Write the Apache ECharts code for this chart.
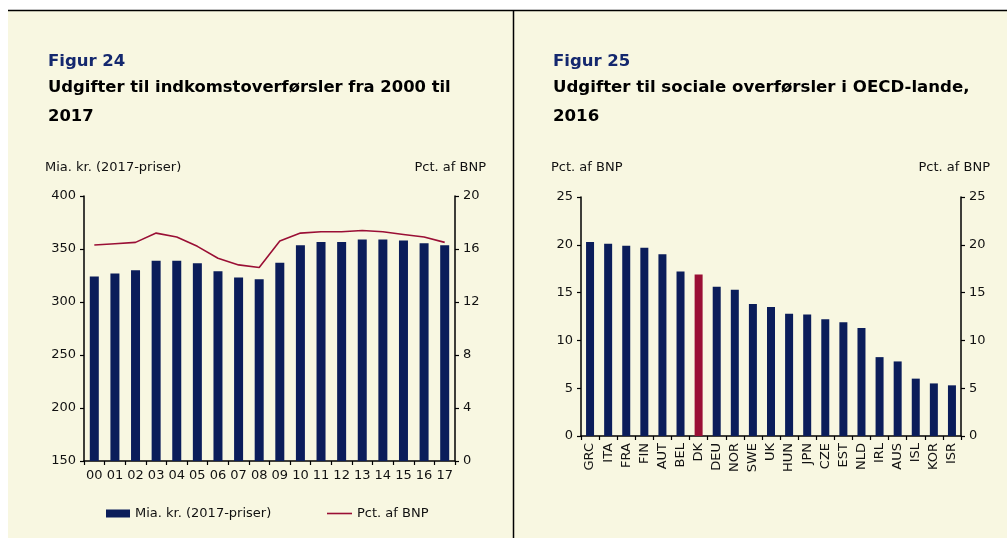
<!DOCTYPE html>
<html>
<head>
<meta charset="utf-8">
<script src="https://cdn.jsdelivr.net/npm/echarts@6/dist/echarts.min.js"></script>
<style>
  html, body { margin: 0; padding: 0; background: #ffffff; }
  #main { width: 1007px; height: 538px; }
</style>
</head>
<body>
<div id="main"></div>
<script>
// Figur 24 data
const years = ['00', '01', '02', '03', '04', '05', '06', '07', '08', '09', '10', '11', '12', '13', '14', '15', '16', '17'];
const miaKr = [324, 327, 330, 339, 339, 336.5, 329, 323, 321.5, 337, 353.5, 356.5, 356.5, 359, 359, 358, 355.5, 353.5];
const pctBnp = [16.3, 16.4, 16.5, 17.2, 16.9, 16.2, 15.3, 14.8, 14.6, 16.6, 17.2, 17.3, 17.3, 17.4, 17.3, 17.1, 16.9, 16.5];

// Figur 25 data
const countries = ['GRC', 'ITA', 'FRA', 'FIN', 'AUT', 'BEL', 'DK', 'DEU', 'NOR', 'SWE', 'UK', 'HUN', 'JPN', 'CZE', 'EST', 'NLD', 'IRL', 'AUS', 'ISL', 'KOR', 'ISR'];
const oecdPct = [20.3, 20.1, 19.9, 19.7, 19.0, 17.2, 16.9, 15.6, 15.3, 13.8, 13.5, 12.8, 12.7, 12.2, 11.9, 11.3, 8.25, 7.8, 6.0, 5.5, 5.3];
const highlight = 'DK';

const NAVY = '#0b1d5a';
const RED = '#9a0f35';
const BG = '#f8f7e1';
const FONT = 'DejaVu Sans';

const chart = echarts.init(document.getElementById('main'));

const axisText = { color: '#111', fontFamily: FONT, fontSize: 13 };
const axisLine = { show: true, lineStyle: { color: '#000', width: 1.5 } };
const axisTick = { show: true, length: 4, lineStyle: { color: '#000', width: 1.2 } };
const legendText = { fontFamily: FONT, fontSize: 13, color: '#111' };

function txt(x, y, text, style) {
  return {
    type: 'text', x: x, y: y,
    style: Object.assign({ text: text, fontFamily: FONT, fontSize: 13, fill: '#111', verticalAlign: 'middle' }, style || {})
  };
}

chart.setOption({
  animation: false,
  backgroundColor: '#ffffff',
  graphic: [
    { type: 'rect', shape: { x: 8, y: 10, width: 999, height: 528 }, style: { fill: BG }, z: -10 },
    { type: 'line', shape: { x1: 8, y1: 10.5, x2: 1007, y2: 10.5 }, style: { stroke: '#000', lineWidth: 1.5 } },
    { type: 'line', shape: { x1: 513.5, y1: 10, x2: 513.5, y2: 538 }, style: { stroke: '#000', lineWidth: 1.5 } },
    txt(48, 62, 'Figur 24', { fontSize: 16.5, fontWeight: 'bold', fill: '#14286e' }),
    txt(48, 88, 'Udgifter til indkomstoverførsler fra 2000 til', { fontSize: 16.4, fontWeight: 'bold', fill: '#000' }),
    txt(48, 117, '2017', { fontSize: 16.4, fontWeight: 'bold', fill: '#000' }),
    txt(553, 62, 'Figur 25', { fontSize: 16.5, fontWeight: 'bold', fill: '#14286e' }),
    txt(553, 88, 'Udgifter til sociale overførsler i OECD-lande,', { fontSize: 16.6, fontWeight: 'bold', fill: '#000' }),
    txt(553, 117, '2016', { fontSize: 16.6, fontWeight: 'bold', fill: '#000' }),
    txt(45, 168, 'Mia. kr. (2017-priser)'),
    txt(486, 168, 'Pct. af BNP', { align: 'right' }),
    txt(551, 168, 'Pct. af BNP'),
    txt(990, 168, 'Pct. af BNP', { align: 'right' })
  ],
  legend: [
    {
      left: 101, top: 502,
      itemWidth: 24, itemHeight: 8,
      textStyle: legendText,
      data: [{ name: 'Mia. kr. (2017-priser)', icon: 'rect' }]
    },
    {
      left: 322, top: 502,
      itemWidth: 25, itemHeight: 1.6,
      textStyle: legendText,
      data: [{ name: 'Pct. af BNP', icon: 'rect' }]
    }
  ],
  grid: [
    { left: 84, right: 552, top: 196, bottom: 77 },
    { left: 581, right: 46, top: 197, bottom: 102 }
  ],
  xAxis: [
    {
      type: 'category', gridIndex: 0, data: years,
      axisLine: axisLine, axisTick: axisTick,
      axisLabel: Object.assign({ margin: 8, interval: 0 }, axisText)
    },
    {
      type: 'category', gridIndex: 1, data: countries,
      axisLine: axisLine, axisTick: axisTick,
      axisLabel: Object.assign({ rotate: 90, margin: 7, interval: 0 }, axisText)
    }
  ],
  yAxis: [
    {
      type: 'value', gridIndex: 0, min: 150, max: 400, interval: 50,
      axisLine: axisLine, axisTick: axisTick, splitLine: { show: false },
      axisLabel: Object.assign({ margin: 8 }, axisText)
    },
    {
      type: 'value', gridIndex: 0, position: 'right', min: 0, max: 20, interval: 4,
      axisLine: axisLine, axisTick: axisTick, splitLine: { show: false },
      axisLabel: Object.assign({ margin: 8 }, axisText)
    },
    {
      type: 'value', gridIndex: 1, min: 0, max: 25, interval: 5,
      axisLine: axisLine, axisTick: axisTick, splitLine: { show: false },
      axisLabel: Object.assign({ margin: 8 }, axisText)
    },
    {
      type: 'value', gridIndex: 1, position: 'right', min: 0, max: 25, interval: 5,
      axisLine: axisLine, axisTick: axisTick, splitLine: { show: false },
      axisLabel: Object.assign({ margin: 8 }, axisText)
    }
  ],
  series: [
    {
      name: 'Mia. kr. (2017-priser)', type: 'bar', xAxisIndex: 0, yAxisIndex: 0,
      barWidth: 9, data: miaKr, itemStyle: { color: NAVY }
    },
    {
      name: 'Pct. af BNP', type: 'line', xAxisIndex: 0, yAxisIndex: 1,
      data: pctBnp, symbol: 'none', lineStyle: { color: RED, width: 1.6 }, itemStyle: { color: RED }
    },
    {
      name: 'OECD', type: 'bar', xAxisIndex: 1, yAxisIndex: 2, barWidth: 8,
      data: oecdPct.map(function (v, i) {
        return countries[i] === highlight ? { value: v, itemStyle: { color: RED } } : v;
      }),
      itemStyle: { color: NAVY }
    }
  ]
});
</script>
</body>
</html>
